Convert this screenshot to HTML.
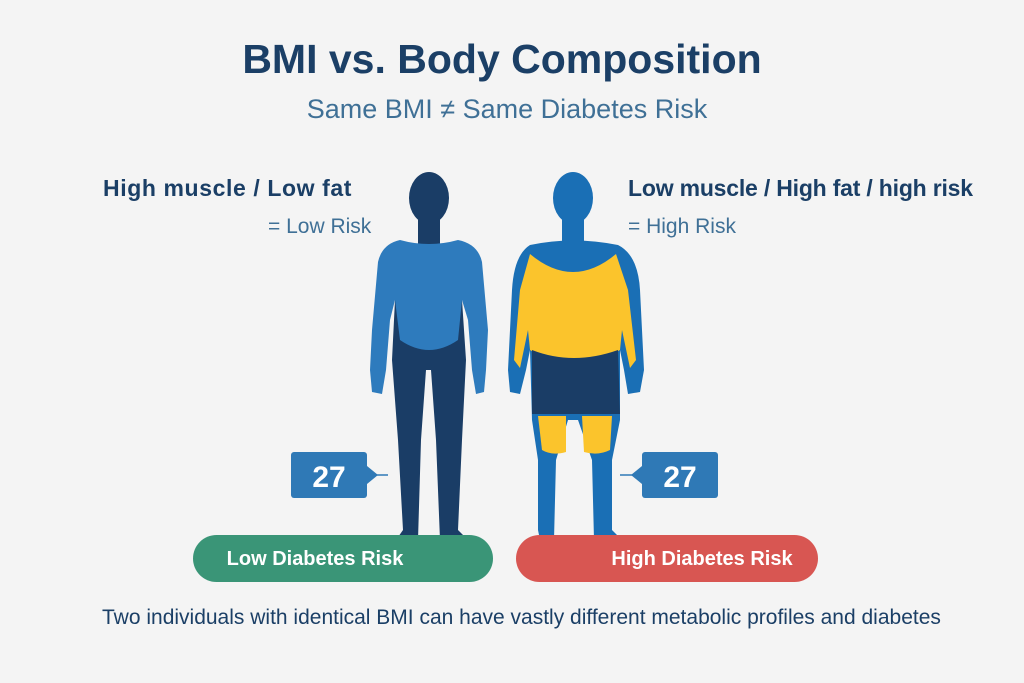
<!DOCTYPE html>
<html><head><meta charset="utf-8"><style>
body{margin:0;background:#f4f4f4;font-family:"Liberation Sans","DejaVu Sans",sans-serif;}
#w{position:relative;width:1024px;height:683px;overflow:hidden;background:#f4f4f4}
.t{position:absolute;white-space:nowrap}
</style></head><body><div id="w">
<div class="t" style="left:0;width:1004px;text-align:center;top:36px;font-size:41px;font-weight:bold;color:#1b3f66">BMI vs. Body Composition</div>
<div class="t" style="left:0;width:1014px;text-align:center;top:94px;font-size:27px;color:#3f7096">Same BMI ≠ Same Diabetes Risk</div>
<div class="t" style="left:103px;top:175px;font-size:23px;font-weight:bold;color:#1b3f66;letter-spacing:0.6px">High muscle / Low fat</div>
<div class="t" style="left:268px;top:215px;font-size:21px;color:#3f7096">= Low Risk</div>
<div class="t" style="left:628px;top:175px;font-size:23px;font-weight:bold;color:#1b3f66;letter-spacing:-0.2px">Low muscle / High fat / high risk</div>
<div class="t" style="left:628px;top:215px;font-size:21px;color:#3f7096">= High Risk</div>
<svg width="1024" height="683" style="position:absolute;left:0;top:0">
<g fill="#1a3d66">
<ellipse cx="429" cy="198" rx="20" ry="26"/>
<rect x="418" y="215" width="22" height="30"/>
<path d="M395 300 L462 300 L466 360 L462 440 L458 530 L468 540 L440 540 L436 440 L431 370 L426 370 L421 440 L418 540 L396 540 L403 530 L398 440 L392 360Z"/>
</g>
<g fill="#2e7bbd">
<path d="M400 240 Q429 248 458 240 Q478 244 482 262 L488 330 L486 370 L484 392 L476 394 L472 370 L468 320 L462 300 L458 340 Q429 360 400 340 L395 300 L390 320 L386 370 L382 394 L372 392 L370 370 L372 330 L378 262 Q382 244 400 240Z"/>
</g>
<g fill="#1a6fb5">
<ellipse cx="573" cy="198" rx="20" ry="26"/>
<rect x="562" y="215" width="22" height="30"/>
<path d="M530 245 Q573 236 618 245 Q638 255 640 290 L644 370 L640 392 L628 394 L624 370 L620 350 L620 420 L612 460 L612 530 L622 540 L594 540 L592 460 L578 420 L568 420 L556 460 L554 540 L540 540 L538 530 L538 460 L532 420 L530 350 L526 370 L520 394 L510 392 L508 370 L512 290 Q514 255 530 245Z"/>
</g>
<g fill="#fbc42c">
<path d="M530 254 Q573 290 616 254 L628 290 L636 360 L630 368 L622 330 L620 350 Q600 362 573 360 Q548 362 530 350 L528 330 L520 368 L514 360 L520 290Z"/>
<path d="M538 416 L566 416 L566 452 Q552 456 542 450Z"/>
<path d="M582 416 L612 416 L610 450 Q598 456 584 452Z"/>
</g>
<path d="M532 350 Q573 366 618 350 L620 414 L532 414Z" fill="#1a3d66"/>
<rect x="291" y="452" width="76" height="46" rx="3" fill="#2f79b6"/>
<path d="M367 466 L378 475 L367 484Z" fill="#2f79b6"/>
<line x1="376" y1="475" x2="388" y2="475" stroke="#2f79b6" stroke-width="1.5"/>
<rect x="642" y="452" width="76" height="46" rx="3" fill="#2f79b6"/>
<path d="M642 466 L631 475 L642 484Z" fill="#2f79b6"/>
<line x1="620" y1="475" x2="633" y2="475" stroke="#2f79b6" stroke-width="1.5"/>
<text x="329" y="487" font-size="30" font-weight="bold" fill="#fff" text-anchor="middle" font-family="Liberation Sans">27</text>
<text x="680" y="487" font-size="30" font-weight="bold" fill="#fff" text-anchor="middle" font-family="Liberation Sans">27</text>
<rect x="193" y="535" width="300" height="47" rx="23.5" fill="#3a9577"/>
<rect x="516" y="535" width="302" height="47" rx="23.5" fill="#d85652"/>
<text x="315" y="565" font-size="20" font-weight="bold" fill="#fff" text-anchor="middle" font-family="Liberation Sans">Low Diabetes Risk</text>
<text x="702" y="565" font-size="20" font-weight="bold" fill="#fff" text-anchor="middle" font-family="Liberation Sans">High Diabetes Risk</text>
</svg>
<div class="t" style="left:102px;top:606px;font-size:21px;color:#1b3f66">Two individuals with identical BMI can have vastly different metabolic profiles and diabetes</div>
</div></body></html>
